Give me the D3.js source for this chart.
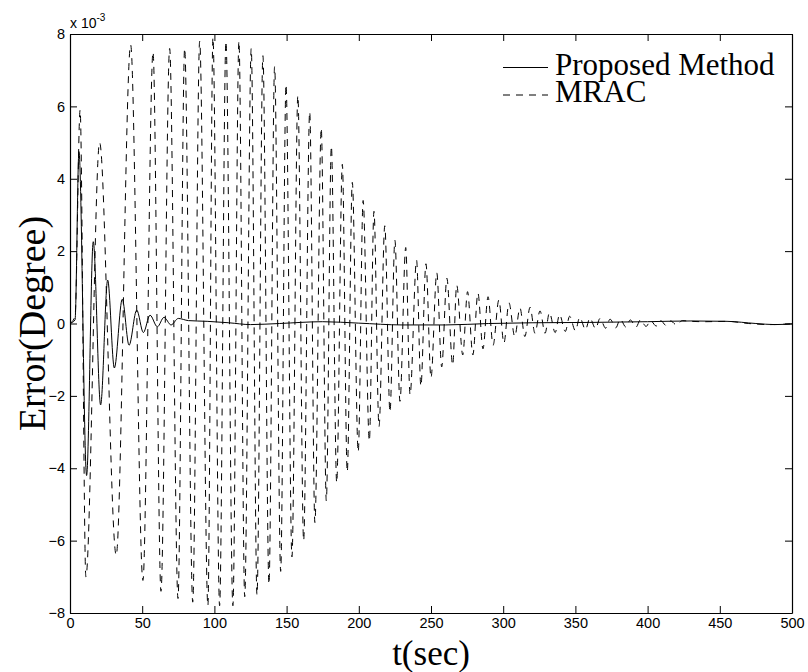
<!DOCTYPE html>
<html>
<head>
<meta charset="utf-8">
<script src="https://cdn.jsdelivr.net/npm/d3@7"></script>
<style>
	body { margin: 0; background: #fff; }
	svg { display: block; }
</style>
</head>
<body>
<svg id="chart" width="808" height="672"></svg>
<script>
// Proposed Method: turning points (t in s, error in 1e-3 degree)
const propT = [0, 3.5, 6.2, 11.5, 16.1, 21.2, 26.1, 30.7, 36.2, 40.9, 46.2, 50.8, 55.4, 60.5, 65.1, 70, 75, 82, 95, 110, 125, 145, 175, 200, 230, 260, 290, 320, 360, 400, 430, 455, 475, 488, 500];
const propV = [0, 0.1, 4.75, -4.2, 2.26, -2.25, 1.2, -1.23, 0.67, -0.6, 0.37, -0.25, 0.23, -0.09, 0.17, -0.04, 0.14, 0.08, 0.06, 0.02, -0.03, 0.0, 0.05, 0.01, -0.04, -0.04, 0.0, 0.02, 0.03, 0.05, 0.07, 0.06, 0.0, -0.03, -0.01];

// MRAC: peaks and troughs
const mracT = [0, 3.5, 7, 11, 20.5, 32, 42, 50.5, 57.5, 63, 69, 74.8, 79.4, 85, 89.8, 95.5, 99, 103.6, 108, 112.8, 117, 121, 125.5, 129.5, 133.6, 137.8, 141.7, 145.9, 149.6, 153.7, 157.8, 161.8, 166, 169.6, 174, 177.5, 181, 184.7, 188.6, 192, 195.5, 199.6, 203, 207.3, 210.5, 214, 218, 221.6, 225, 228.5, 232.5, 235.5, 240, 243, 246.5, 250, 254, 257.4, 261, 265, 267.8, 272, 275.3, 279, 282.5, 286, 289.5, 293, 297, 300.5, 304, 308, 311.6, 315, 318.6, 322, 325.5, 329, 332, 336, 339, 343, 346, 350, 353, 357, 360, 364, 367, 371, 374, 378, 381, 385, 388, 392, 395, 399, 402, 406, 409, 413, 416, 420, 424, 430, 440, 455, 470, 485, 500];
const mracV = [0, 0.2, 5.9, -7.0, 5.0, -6.4, 7.7, -7.1, 7.5, -7.4, 7.6, -7.6, 7.6, -7.7, 7.8, -7.8, 7.9, -7.8, 7.8, -7.8, 7.8, -7.55, 7.6, -7.5, 7.4, -7.2, 7.1, -6.85, 6.6, -6.45, 6.3, -6.0, 5.85, -5.5, 5.4, -4.9, 4.9, -4.4, 4.4, -4.1, 3.9, -3.55, 3.4, -3.25, 3.1, -2.85, 2.7, -2.45, 2.3, -2.15, 2.1, -1.97, 1.75, -1.73, 1.65, -1.5, 1.4, -1.2, 1.25, -1.15, 1.06, -0.87, 0.88, -0.87, 0.84, -0.7, 0.74, -0.6, 0.65, -0.54, 0.57, -0.36, 0.43, -0.36, 0.45, -0.27, 0.35, -0.27, 0.3, -0.25, 0.25, -0.22, 0.2, -0.2, 0.17, -0.17, 0.15, -0.14, 0.14, -0.13, 0.12, -0.12, 0.12, -0.1, 0.1, -0.1, 0.1, -0.08, 0.08, -0.07, 0.08, -0.06, 0.07, -0.04, 0.08, 0.06, 0.05, 0.06, 0.0, -0.03, -0.01];

const xTicks = [0, 50, 100, 150, 200, 250, 300, 350, 400, 450, 500];
const yTicks = [-8, -6, -4, -2, 0, 2, 4, 6, 8];

const legendItems = [
	{name: 'Proposed Method', dash: null},
	{name: 'MRAC', dash: '7,6'}
];

const margin = {left: 70, right: 16, top: 34, bottom: 59};
const width = 808, height = 672;
const plotW = width - margin.left - margin.right;
const plotH = height - margin.top - margin.bottom;
const sansFont = '"Liberation Sans", Arial, Helvetica, sans-serif';
const serifFont = '"Liberation Serif", "Times New Roman", serif';

const svg = d3.select('#chart');
const g = svg.append('g').attr('transform', `translate(${margin.left},${margin.top})`);

const x = d3.scaleLinear().domain([0, 500]).range([0, plotW]);
const y = d3.scaleLinear().domain([-8, 8]).range([plotH, 0]);

// clip to the axes box
svg.append('defs').append('clipPath').attr('id', 'clip')
	.append('rect').attr('width', plotW).attr('height', plotH);

const tickLen = 7;

// axes on all four sides, ticks pointing inward
const xAxisB = d3.axisBottom(x).tickValues(xTicks).tickSizeInner(-tickLen).tickSizeOuter(0).tickPadding(5);
const xAxisT = d3.axisTop(x).tickValues(xTicks).tickSizeInner(-tickLen).tickSizeOuter(0).tickFormat('');
const yAxisL = d3.axisLeft(y).tickValues(yTicks).tickSizeInner(-tickLen).tickSizeOuter(0).tickPadding(5);
const yAxisR = d3.axisRight(y).tickValues(yTicks).tickSizeInner(-tickLen).tickSizeOuter(0).tickFormat('');

function styleAxis(sel){
	sel.select('.domain').attr('stroke', '#000').attr('stroke-width', 1.2);
	sel.selectAll('.tick line').attr('stroke', '#000').attr('stroke-width', 1);
	sel.selectAll('.tick text').attr('fill', '#000')
		.attr('font-family', sansFont).attr('font-size', '14.5px');
}

g.append('g').attr('transform', `translate(0,${plotH})`).call(xAxisB).call(styleAxis);
g.append('g').call(xAxisT).call(styleAxis);
g.append('g').call(yAxisL).call(styleAxis);
g.append('g').attr('transform', `translate(${plotW},0)`).call(yAxisR).call(styleAxis);

// exponent label
const expo = g.append('text')
	.attr('x', 0).attr('y', -6)
	.attr('font-family', sansFont).attr('font-size', '14px').attr('fill', '#000');
expo.append('tspan').text('x 10');
expo.append('tspan').attr('dy', -7).attr('font-size', '10px').text('-3');

// lines
const line = d3.line()
	.x((d) => x(d[0]))
	.y((d) => y(d[1]))
	.curve(d3.curveMonotoneX);

const series = g.append('g').attr('clip-path', 'url(#clip)');

series.append('path')
	.datum(mracT.map((t, i) => [t, mracV[i]]))
	.attr('fill', 'none')
	.attr('stroke', '#000')
	.attr('stroke-width', 1)
	.attr('stroke-dasharray', legendItems[1].dash)
	.attr('d', line);

series.append('path')
	.datum(propT.map((t, i) => [t, propV[i]]))
	.attr('fill', 'none')
	.attr('stroke', '#000')
	.attr('stroke-width', 1)
	.attr('d', line);

// legend (no box)
const lg = g.append('g').attr('transform', `translate(${503 - margin.left},${67.5 - margin.top})`);
legendItems.forEach((it, i) => {
	let row = lg.append('g').attr('transform', `translate(0,${i * 27.5})`);
	row.append('line')
		.attr('x1', 0).attr('x2', 45).attr('y1', 0).attr('y2', 0)
		.attr('stroke', '#000').attr('stroke-width', 1)
		.attr('stroke-dasharray', it.dash);
	row.append('text')
		.attr('x', 52).attr('y', 7)
		.attr('font-family', serifFont).attr('font-size', '31px').attr('fill', '#000')
		.text(it.name);
});

// axis titles
svg.append('text')
	.attr('x', margin.left + plotW / 2).attr('y', 665)
	.attr('text-anchor', 'middle')
	.attr('font-family', serifFont).attr('font-size', '35px').attr('fill', '#000')
	.text('t(sec)');

svg.append('text')
	.attr('transform', `translate(45,${margin.top + plotH / 2}) rotate(-90)`)
	.attr('text-anchor', 'middle')
	.attr('font-family', serifFont).attr('font-size', '38px').attr('fill', '#000')
	.text('Error(Degree)');
</script>
</body>
</html>
